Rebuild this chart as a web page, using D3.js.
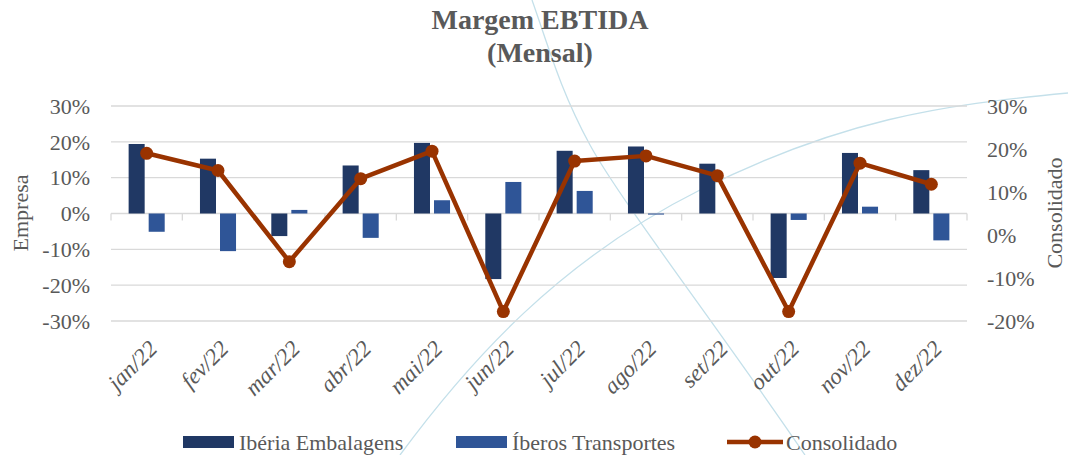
<!DOCTYPE html>
<html>
<head>
<meta charset="utf-8">
<script src="https://cdn.jsdelivr.net/npm/d3@7"></script>
<style>
  body { margin: 0; background: #fff; }
  text { font-family: "Liberation Serif", "DejaVu Serif", serif; }
</style>
</head>
<body>
<svg id="chart" width="1068" height="455"></svg>
<script>
const months = ["jan/22", "fev/22", "mar/22", "abr/22", "mai/22", "jun/22",
                "jul/22", "ago/22", "set/22", "out/22", "nov/22", "dez/22"];
const iberia = [19.4, 15.3, -6.3, 13.4, 19.7, -18.3, 17.5, 18.7, 13.9, -18.0, 16.9, 12.1];
const iberos = [-5.1, -10.5, 1.0, -6.8, 3.7, 8.8, 6.3, -0.3, 0, -1.8, 1.9, -7.5];
const consolidado = [19.0, 15.0, -6.2, 13.1, 19.5, -17.8, 17.2, 18.4, 13.8, -17.8, 16.7, 11.8];
const leftTicks = [-30, -20, -10, 0, 10, 20, 30];
const rightTicks = [-20, -10, 0, 10, 20, 30];
const seriesNames = ["Ibéria Embalagens", "Íberos Transportes", "Consolidado"];

const textColor = "#595959";
const gridColor = "#d9d9d9";
const colors = ["#203864", "#2f5597", "#993300"];

const svg = d3.select("#chart");
const plot = { left: 111, right: 967, top: 106, bottom: 321 };

// decorative background curves
const deco = svg.append("g").attr("fill", "none").attr("stroke", "#c4e0ea").attr("stroke-width", 1.3);
deco.append("path").attr("d", "M532,0 C548,45 560,90 590,145 S720,330 805,455");
deco.append("path").attr("d", "M400,455 C470,360 560,260 700,190 S940,105 1068,93");

const x0 = d3.scaleBand().domain(months).range([plot.left, plot.right]).padding(0);
const x1 = d3.scaleBand().domain([0, 1]).range([0, x0.bandwidth()])
  .paddingInner(0.2).paddingOuter(0.88);
const yL = d3.scaleLinear().domain([-30, 30]).range([plot.bottom, plot.top]);
const yR = d3.scaleLinear().domain([-20, 30]).range([plot.bottom, plot.top]);

// gridlines
svg.append("g")
  .selectAll("line").data(leftTicks).enter().append("line")
  .attr("x1", plot.left).attr("x2", plot.right)
  .attr("y1", d => yL(d)).attr("y2", d => yL(d))
  .attr("stroke", gridColor).attr("stroke-width", 1.3);

// category tick marks on zero line
svg.append("g")
  .selectAll("line").data(d3.range(months.length + 1)).enter().append("line")
  .attr("x1", i => plot.left + i * x0.step()).attr("x2", i => plot.left + i * x0.step())
  .attr("y1", yL(0)).attr("y2", yL(0) + 7)
  .attr("stroke", gridColor).attr("stroke-width", 1.3);

// left axis labels
svg.append("g")
  .selectAll("text").data(leftTicks).enter().append("text")
  .attr("x", 90).attr("y", d => yL(d)).attr("dy", "0.35em")
  .attr("text-anchor", "end").attr("font-size", 22).attr("fill", textColor)
  .text(d => d + "%");

// right axis labels
svg.append("g")
  .selectAll("text").data(rightTicks).enter().append("text")
  .attr("x", 987).attr("y", d => yR(d)).attr("dy", "0.35em")
  .attr("text-anchor", "start").attr("font-size", 22).attr("fill", textColor)
  .text(d => d + "%");

// axis titles
svg.append("text")
  .attr("transform", "translate(28,213) rotate(-90)")
  .attr("text-anchor", "middle").attr("font-size", 22).attr("fill", textColor)
  .text("Empresa");
svg.append("text")
  .attr("transform", "translate(1062,213) rotate(-90)")
  .attr("text-anchor", "middle").attr("font-size", 22).attr("fill", textColor)
  .text("Consolidado");

// bars
const barData = [iberia, iberos];
barData.forEach((vals, s) => {
  svg.append("g")
    .selectAll("rect").data(vals).enter().append("rect")
    .attr("x", (d, i) => x0(months[i]) + x1(s))
    .attr("width", x1.bandwidth())
    .attr("y", d => yL(Math.max(0, d)))
    .attr("height", d => Math.abs(yL(d) - yL(0)))
    .attr("fill", colors[s]);
});

// line
const cx = (d, i) => x0(months[i]) + x0.bandwidth() / 2;
const line = d3.line().x(cx).y(d => yR(d));
svg.append("path").datum(consolidado)
  .attr("d", line).attr("fill", "none")
  .attr("stroke", colors[2]).attr("stroke-width", 4.5).attr("stroke-linejoin", "round");
svg.append("g")
  .selectAll("circle").data(consolidado).enter().append("circle")
  .attr("cx", cx).attr("cy", d => yR(d)).attr("r", 6.5)
  .attr("fill", colors[2]);

// x labels
svg.append("g")
  .selectAll("text").data(months).enter().append("text")
  .attr("transform", d => `translate(${x0(d) + x0.bandwidth() / 2 + 12},${350}) rotate(-45)`)
  .attr("text-anchor", "end").attr("font-size", 23).attr("font-style", "italic")
  .attr("fill", textColor)
  .text(d => d);

// title
const title = svg.append("text").attr("text-anchor", "middle")
  .attr("font-weight", "bold").attr("font-size", 28).attr("fill", textColor);
title.append("tspan").attr("x", 540).attr("y", 29).text("Margem EBTIDA");
title.append("tspan").attr("x", 540).attr("y", 62).text("(Mensal)");

// legend
const legY = 442;
const leg = svg.append("g");
const legX = [183, 456, 727];
[0, 1].forEach(s => {
  leg.append("rect").attr("x", legX[s]).attr("y", legY - 6).attr("width", 51).attr("height", 12)
    .attr("fill", colors[s]);
  leg.append("text").attr("x", legX[s] + 56).attr("y", legY).attr("dy", "0.35em")
    .attr("font-size", 22).attr("fill", textColor)
    .text(seriesNames[s]);
});
leg.append("line").attr("x1", legX[2]).attr("x2", legX[2] + 56)
  .attr("y1", legY).attr("y2", legY)
  .attr("stroke", colors[2]).attr("stroke-width", 4.5);
leg.append("circle").attr("cx", legX[2] + 28).attr("cy", legY).attr("r", 6.5).attr("fill", colors[2]);
leg.append("text").attr("x", legX[2] + 59).attr("y", legY).attr("dy", "0.35em")
  .attr("font-size", 22).attr("fill", textColor)
  .text(seriesNames[2]);
</script>
</body>
</html>
